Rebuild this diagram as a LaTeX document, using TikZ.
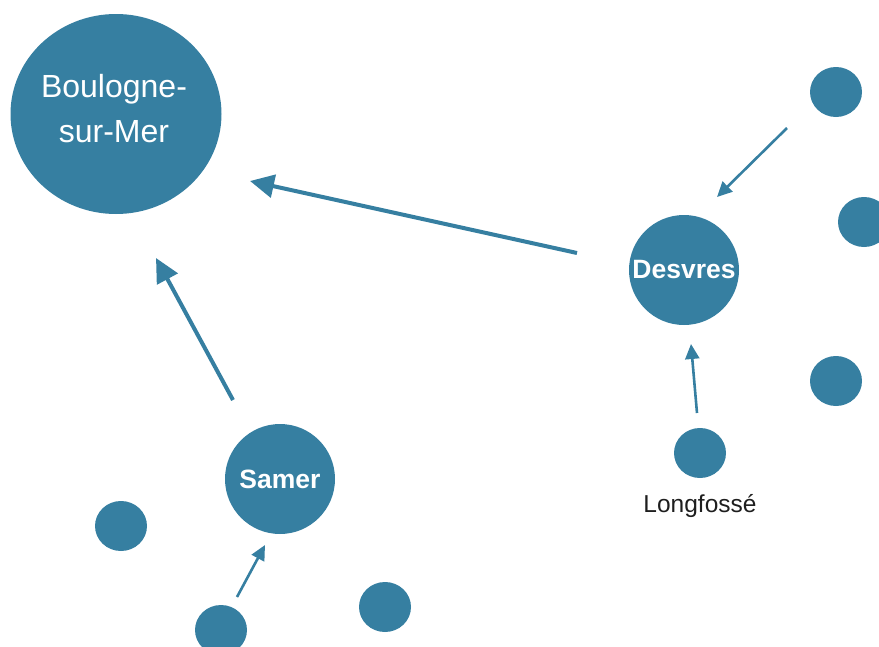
\documentclass[tikz,border=0pt]{standalone}
\usepackage{fontspec}
\setmainfont{Liberation Sans}
\usetikzlibrary{arrows.meta,shapes.geometric,calc}
\definecolor{dotblue}{RGB}{54,127,161}
\definecolor{labelgray}{RGB}{30,30,30}
\tikzset{
  town/.style={circle,fill=dotblue,draw=none,inner sep=0pt,text=white},
  bigtown/.style={ellipse,fill=dotblue,draw=none,inner sep=0pt,minimum width=211pt,minimum height=200pt},
  bigtext/.style={text=white,align=center,font=\fontsize{32}{45}\selectfont},
  midtown/.style={town,minimum size=110pt,font=\fontsize{26.5}{30}\selectfont\bfseries},
  smalltown/.style={ellipse,fill=dotblue,draw=none,inner sep=0pt,minimum width=52pt,minimum height=50pt},
  thickarr/.style={draw=dotblue,line width=4pt,-{Triangle[length=24pt,width=23pt]}},
  thinarr/.style={draw=dotblue,line width=2.6pt,-{Triangle[length=15pt,width=14pt]}},
  lbl/.style={text=labelgray,font=\fontsize{24.5}{28}\selectfont}
}
\begin{document}
\begin{tikzpicture}[x=1pt,y=-1pt]
\useasboundingbox (0,0) rectangle (879,646);
\clip (0,0) rectangle (879,646);
\node[bigtown] (boulogne) at (116,114) {};
\node[bigtext] (boulognetext) at (114,109) {Boulogne-\\sur-Mer};
\node[midtown] (desvres) at (684,270) {\raisebox{-2pt}{Desvres}};
\node[midtown] (samer) at (280,479) {\raisebox{-2pt}{Samer}};
\node[smalltown] (tr) at (836,92) {};
\node[smalltown] (rt) at (864,222) {};
\node[smalltown] (rb) at (836,381) {};
\node[smalltown] (longfosse) at (700,453) {};
\node[lbl] (longlbl) at (700,506) {Longfossé};
\node[smalltown] (lf) at (121,526) {};
\node[smalltown] (bt) at (221,630) {};
\node[smalltown] (br) at (385,607) {};
\draw[thickarr] ($(desvres)+(-107,-17)$) -- ($(boulogne)+(134,67)$);
\draw[thickarr] ($(samer)+(-47,-79)$) -- ($(boulogne)+(40,144)$);
\draw[thinarr] ($(tr)+(-49,36)$) -- ($(desvres)+(33,-73)$);
\draw[thinarr] ($(longfosse)+(-3,-40)$) -- ($(desvres)+(7,74)$);
\draw[thinarr] ($(bt)+(16,-33)$) -- ($(samer)+(-15,66)$);
\end{tikzpicture}
\end{document}
